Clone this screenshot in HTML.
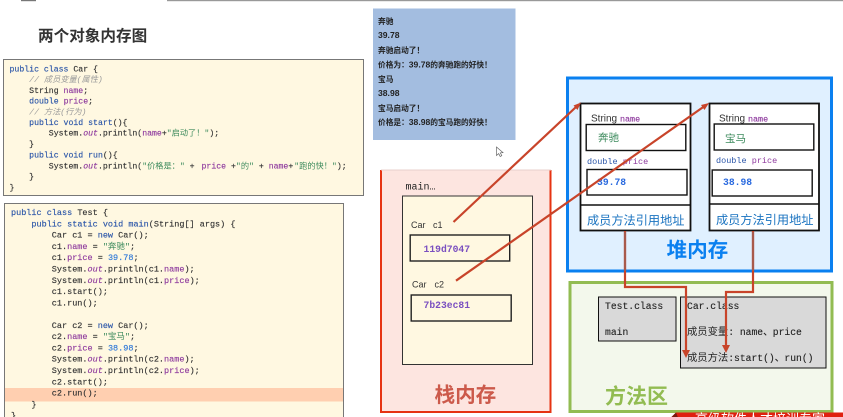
<!DOCTYPE html>
<html><head><meta charset="utf-8">
<style>
html,body{margin:0;padding:0;background:#fff;width:843px;height:417px;overflow:hidden}
svg{display:block;filter:blur(0.25px)}
text{white-space:pre;font-family:"Liberation Sans","Noto Sans CJK SC",sans-serif}
.m{font-family:"Liberation Mono","Noto Sans CJK SC",monospace}
.code1,.code2{stroke:#333;stroke-width:.14}
.k{fill:#2a55a8;stroke:#2a55a8}.p{fill:#8e3a9e;stroke:#8e3a9e}.g{fill:#3c8a5c;stroke:none}.c{fill:#9a9a9a;font-style:italic;stroke:none}.b{fill:#2f78d8;stroke:#2f78d8}.i{fill:#8e3a9e;font-style:italic;stroke:#8e3a9e}
.code1{font-size:8.2px;fill:#333}
.code2{font-size:8.5px;fill:#333}
.con{font-size:7.7px;font-weight:bold;fill:#222}
.n{font-size:8.6px}
.val{font-size:9.7px;font-weight:bold;fill:#7a4fc0}
.num{font-size:9.7px;font-weight:bold;fill:#2a6adf}
.t{font-size:9.7px;fill:#222;stroke:#222;stroke-width:.12}
.z{font-size:10.3px;stroke:none}
.foot{font-size:12.2px;fill:#1a73c0}
.big{font-size:20.6px;font-weight:bold}
</style></head><body>
<svg width="843" height="417" viewBox="0 0 843 417" xmlns="http://www.w3.org/2000/svg">
<rect x="167" y="0" width="676" height="1.2" fill="#999"/>
<rect x="21" y="0" width="15" height="1.2" fill="#777"/>

<text x="38" y="41" font-size="15.6" font-weight="bold" fill="#333">两个对象内存图</text>

<rect x="3.5" y="59.5" width="360" height="136" fill="#fff8e1" stroke="#777"/>
<text class="m code1" x="9.5" y="71.5"><tspan class="k">public class</tspan> Car {</text>
<text class="m code1" x="9.5" y="82.2">    <tspan class="c">// 成员变量(属性)</tspan></text>
<text class="m code1" x="9.5" y="92.9">    String <tspan class="p">name</tspan>;</text>
<text class="m code1" x="9.5" y="103.6">    <tspan class="k">double</tspan> <tspan class="p">price</tspan>;</text>
<text class="m code1" x="9.5" y="114.3">    <tspan class="c">// 方法(行为)</tspan></text>
<text class="m code1" x="9.5" y="125">    <tspan class="k">public void</tspan> <tspan class="k">start</tspan>(){</text>
<text class="m code1" x="9.5" y="135.7">        System.<tspan class="i">out</tspan>.println(<tspan class="p">name</tspan>+<tspan class="g">"启动了！"</tspan>);</text>
<text class="m code1" x="9.5" y="146.6">    }</text>
<text class="m code1" x="9.5" y="157.3">    <tspan class="k">public void</tspan> <tspan class="k">run</tspan>(){</text>
<text class="m code1" x="9.5" y="168.4">        System.<tspan class="i">out</tspan>.println(<tspan class="g">"价格是："</tspan> + <tspan class="p" dx="2">price</tspan> +<tspan class="g">"的"</tspan> + <tspan class="p">name</tspan>+<tspan class="g" dx="1">"跑的快！"</tspan>);</text>
<text class="m code1" x="9.5" y="179">    }</text>
<text class="m code1" x="9.5" y="190">}</text>

<path d="M4.5 418V203.5H343.5V418" fill="#fff8e1" stroke="#777"/>
<rect x="5" y="388" width="338" height="13.5" fill="#ffcfb0"/>
<text class="m code2" x="11" y="215"><tspan class="k">public class</tspan> Test {</text>
<text class="m code2" x="11" y="226.3">    <tspan class="k">public static void</tspan> <tspan class="k">main</tspan>(String[] args) {</text>
<text class="m code2" x="11" y="237.6">        Car c1 = <tspan class="k">new</tspan> Car();</text>
<text class="m code2" x="11" y="248.9">        c1.<tspan class="p">name</tspan> = <tspan class="g">"奔驰"</tspan>;</text>
<text class="m code2" x="11" y="260.2">        c1.<tspan class="p">price</tspan> = <tspan class="b">39.78</tspan>;</text>
<text class="m code2" x="11" y="271.5">        System.<tspan class="i">out</tspan>.println(c1.<tspan class="p">name</tspan>);</text>
<text class="m code2" x="11" y="282.8">        System.<tspan class="i">out</tspan>.println(c1.<tspan class="p">price</tspan>);</text>
<text class="m code2" x="11" y="294.1">        c1.start();</text>
<text class="m code2" x="11" y="305.4">        c1.run();</text>
<text class="m code2" x="11" y="327.8">        Car c2 = <tspan class="k">new</tspan> Car();</text>
<text class="m code2" x="11" y="339.1">        c2.<tspan class="p">name</tspan> = <tspan class="g">"宝马"</tspan>;</text>
<text class="m code2" x="11" y="350.4">        c2.<tspan class="p">price</tspan> = <tspan class="b">38.98</tspan>;</text>
<text class="m code2" x="11" y="361.7">        System.<tspan class="i">out</tspan>.println(c2.<tspan class="p">name</tspan>);</text>
<text class="m code2" x="11" y="373">        System.<tspan class="i">out</tspan>.println(c2.<tspan class="p">price</tspan>);</text>
<text class="m code2" x="11" y="384.3">        c2.start();</text>
<text class="m code2" x="11" y="395.6">        c2.run();</text>
<text class="m code2" x="11" y="406.9">    }</text>
<text class="m code2" x="11" y="418">}</text>

<rect x="373" y="8.5" width="142.5" height="131.5" fill="#a3bde0"/>
<text class="con" x="378" y="24">奔驰</text>
<text class="con n" x="378" y="38">39.78</text>
<text class="con" x="378" y="53">奔驰启动了！</text>
<text class="con" x="378" y="67.5">价格为：<tspan class="n">39.78</tspan>的奔驰跑的好快！</text>
<text class="con" x="378" y="82">宝马</text>
<text class="con n" x="378" y="96">38.98</text>
<text class="con" x="378" y="111">宝马启动了！</text>
<text class="con" x="378" y="125">价格是：<tspan class="n">38.98</tspan>的宝马跑的好快！</text>

<path d="M496.5 147V155.5L498.7 153.6L500.2 156.5L501.8 155.6L500.3 152.9L503 152.6Z" fill="#fff" stroke="#666" stroke-width="0.7"/>

<rect x="381" y="170" width="170" height="242" fill="#fde5e0"/>
<path d="M381 170V412H550.5V170" fill="none" stroke="#e63312" stroke-width="2"/>
<rect x="381" y="169.5" width="170" height="1" fill="#e8d0cc"/>
<text class="m" x="405.5" y="189.5" font-size="10" fill="#222">main…</text>
<rect x="402.5" y="196" width="130" height="168.5" fill="#fff8e1" stroke="#333" stroke-width="1"/>
<text x="411" y="228" font-size="9" fill="#333">Car</text><text x="433" y="228" font-size="9" fill="#333">c1</text>
<rect x="410.2" y="235" width="99.5" height="26" fill="none" stroke="#222" stroke-width="1.4"/>
<text class="m val" x="423.5" y="252">119d7047</text>
<text x="412" y="287.5" font-size="9" fill="#333">Car</text><text x="434.5" y="287.5" font-size="9" fill="#333">c2</text>
<rect x="411.2" y="295" width="100" height="26" fill="none" stroke="#222" stroke-width="1.4"/>
<text class="m val" x="423.5" y="308">7b23ec81</text>
<text class="big" x="434.5" y="402" fill="#cc5a4b">栈内存</text>

<rect x="567.5" y="78" width="264" height="193" fill="#e0f0ff" stroke="#0a80f0" stroke-width="3"/>

<rect x="580.5" y="103.5" width="110" height="127" fill="#fff" stroke="#111" stroke-width="1.8"/>
<line x1="580" y1="205" x2="691" y2="205" stroke="#111" stroke-width="1.6"/>
<text x="591" y="121.5" font-size="10" fill="#333">String</text><text class="m" x="620" y="121.5" font-size="8.4" fill="#8e3a9e" stroke="#8e3a9e" stroke-width=".15">name</text>
<rect x="586.2" y="124.5" width="99.6" height="26" fill="none" stroke="#111" stroke-width="1.4"/>
<text x="598" y="141" font-size="10.5" fill="#3c8a5c">奔驰</text>
<text class="m" x="587" y="164" font-size="8.5" fill="#2a55a8">double <tspan fill="#8e3a9e">price</tspan></text>
<rect x="587" y="169.5" width="100" height="25.5" fill="none" stroke="#111" stroke-width="1.4"/>
<text class="m num" x="597" y="185">39.78</text>
<text class="foot" x="587" y="224.5">成员方法引用地址</text>

<rect x="709.5" y="103.5" width="109.5" height="127" fill="#fff" stroke="#111" stroke-width="1.8"/>
<line x1="709" y1="204" x2="819" y2="204" stroke="#111" stroke-width="1.6"/>
<text x="719" y="121.5" font-size="10" fill="#333">String</text><text class="m" x="748" y="121.5" font-size="8.4" fill="#8e3a9e" stroke="#8e3a9e" stroke-width=".15">name</text>
<rect x="714.2" y="124" width="99.6" height="26" fill="none" stroke="#111" stroke-width="1.4"/>
<text x="725" y="142" font-size="10.5" fill="#3c8a5c">宝马</text>
<text class="m" x="716" y="163" font-size="8.5" fill="#2a55a8">double <tspan fill="#8e3a9e">price</tspan></text>
<rect x="712.2" y="170" width="100" height="26" fill="none" stroke="#111" stroke-width="1.4"/>
<text class="m num" x="723" y="185">38.98</text>
<text class="foot" x="716" y="224">成员方法引用地址</text>
<text class="big" x="666.5" y="257" fill="#0a80f0">堆内存</text>

<rect x="570" y="282.5" width="262" height="129" fill="#f3f8ec" stroke="#92bc52" stroke-width="3"/>
<rect x="598.5" y="297" width="77.5" height="44" fill="#d9d9d9" stroke="#111" stroke-width="1"/>
<text class="m t" x="605" y="309">Test.class</text>
<text class="m t" x="605" y="335">main</text>
<rect x="680.5" y="297" width="145.5" height="71" fill="#d9d9d9" stroke="#111" stroke-width="1"/>
<text class="m t" x="687" y="309">Car.class</text>
<text class="m t" x="687" y="335"><tspan class="z">成员变量</tspan>: name、price</text>
<text class="m t" x="687" y="361"><tspan class="z">成员方法</tspan>:start()、run()</text>
<text class="big" x="605" y="403.5" fill="#92bc52" style="font-size:21px">方法区</text>

<svg x="671" y="412.5" width="172" height="5" overflow="hidden">
<polygon points="0,5 5,0 172,0 172,5" fill="#e02010"/>
<polygon points="0,5 5,0 7,5" fill="#7a1a10"/>
<text x="24" y="11" font-size="13" fill="#fff">高级软件人才培训专家</text>
</svg>

<g fill="none" stroke="#c8442a" stroke-width="2.2">
<line x1="453.5" y1="222" x2="576" y2="107"/>
<line x1="456" y1="280.7" x2="704" y2="106.5"/>
<path d="M625 231V287H686V352"/>
<path d="M753 231V292H726V347"/>
</g>
<line x1="625" y1="232" x2="625" y2="271" stroke="#a85a4c" stroke-width="2.2"/>
<line x1="753" y1="232" x2="753" y2="271" stroke="#a85a4c" stroke-width="2.2"/>
<g fill="#c8442a">
<polygon points="581,102.5 573.5,105.5 577.5,110"/>
<polygon points="709,103 701,105 704.5,110"/>
<polygon points="686,358 682,350 690,350"/>
<polygon points="726,353 722,345 730,345"/>
</g>
</svg>
</body></html>
